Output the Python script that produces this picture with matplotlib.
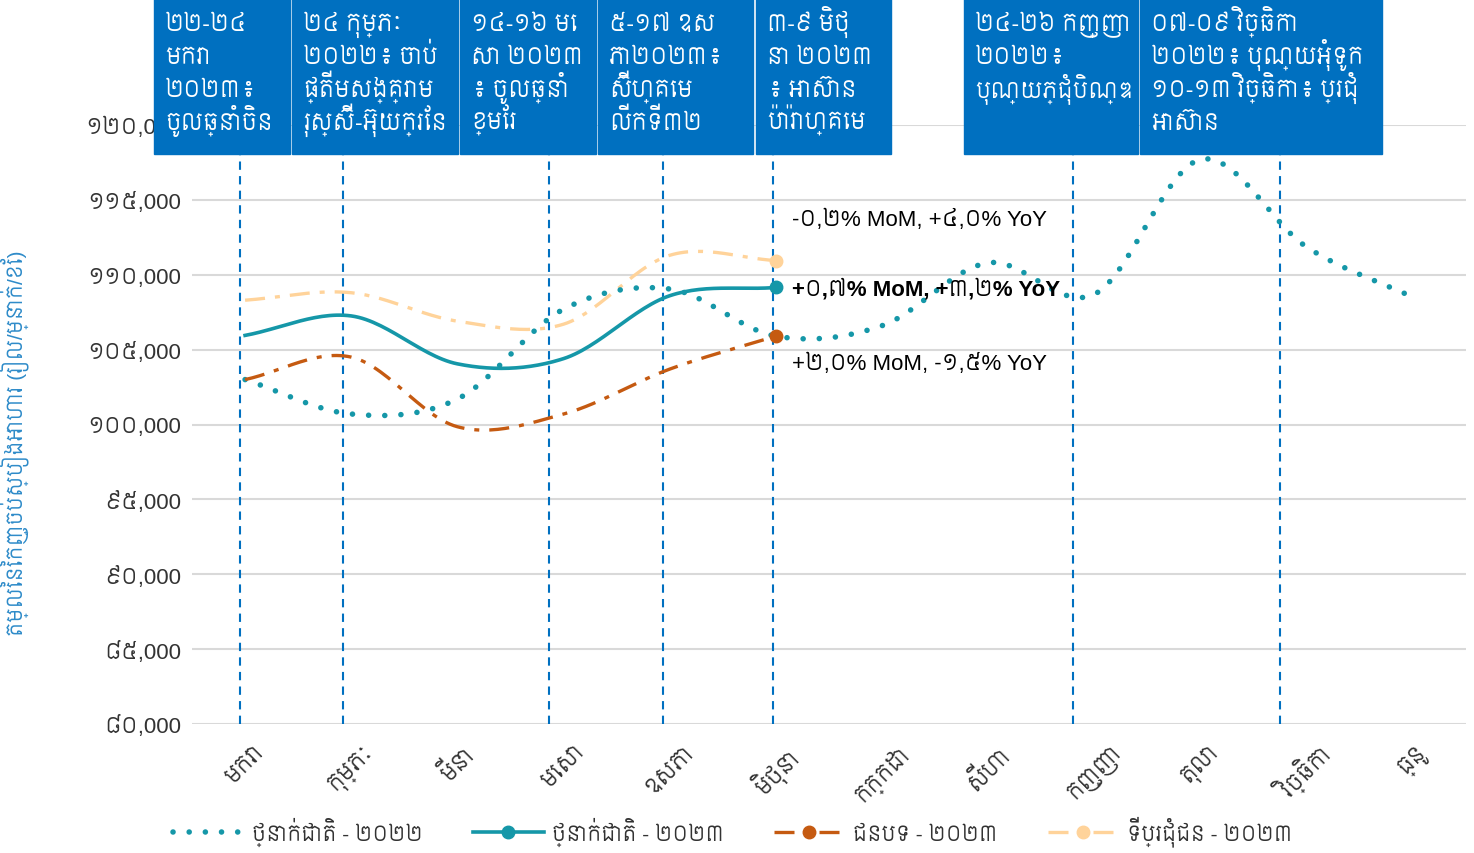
import numpy as np
import matplotlib
matplotlib.use('Agg')
import matplotlib.pyplot as plt
from matplotlib.patches import Rectangle
from matplotlib.lines import Line2D

# Latin text in Liberation Sans, Khmer glyphs from Siemreap
plt.rcParams['font.family'] = ['Liberation Sans', 'Siemreap', 'Noto Sans Khmer', 'DejaVu Sans']

# data
months = ['មករា', 'កុម្ភៈ', 'មីនា', 'មេសា', 'ឧសភា', 'មិថុនា',
          'កក្កដា', 'សីហា', 'កញ្ញា', 'តុលា', 'វិច្ឆិកា', 'ធ្នូ']
national_2022 = [103000, 100700, 101700, 107700, 109050, 105900,
                 106600, 110800, 108700, 117700, 111850, 108500]
national_2023 = [105950, 107250, 104050, 104400, 108600, 109150]
rural_2023 = [103000, 104500, 99850, 100700, 103700, 105900]
urban_2023 = [108300, 108800, 106900, 106700, 111300, 110950]

series_names = ['ថ្នាក់ជាតិ - ២០២២', 'ថ្នាក់ជាតិ - ២០២៣',
                'ជនបទ - ២០២៣', 'ទីប្រជុំជន - ២០២៣']

yticks = [80000, 85000, 90000, 95000, 100000, 105000, 110000, 115000, 120000]
ytick_labels = ['៨០,000', '៨៥,000', '៩០,000', '៩៥,000', '១០០,000',
                '១០៥,000', '១១០,000', '១១៥,000', '១២០,000']

event_x = [-0.05, 0.92, 2.86, 3.94, 4.97, 7.8, 9.75]
event_texts = [
    '២២-២៤\nមករា\n២០២៣៖\nចូលឆ្នាំចិន',
    '២៤ កុម្ភៈ\n២០២២៖ ចាប់\nផ្តើមសង្គ្រាម\nរុស្ស៊ី-អ៊ុយក្រែន',
    '១៤-១៦ មេ\nសា ២០២៣\n៖ ចូលឆ្នាំ\nខ្មែរ',
    '៥-១៧ ឧស\nភា២០២៣៖\nស៊ីហ្គេម\nលើកទី៣២',
    '៣-៩ មិថុ\nនា ២០២៣\n៖ អាស៊ាន\nប៉ារ៉ាហ្គេម',
    '២៤-២៦ កញ្ញា\n២០២២៖\nបុណ្យភ្ជុំបិណ្ឌ',
    '០៧-០៩ វិច្ឆិកា\n២០២២៖ បុណ្យអុំទូក\n១០-១៣ វិច្ឆិកា៖ ប្រជុំ\nអាស៊ាន',
]
# box edges in pixels (left, right)
event_boxes = [(154, 290), (292, 458), (460, 596), (598, 753), (756, 891),
               (964, 1138), (1140, 1382)]

change_labels = ['-០,២% MoM, +៤,០% YoY', '+០,៧% MoM, +៣,២% YoY',
                 '+២,០% MoM, -១,៥% YoY']
change_y = [113700, 109100, 104050]

ylabel = 'តម្លៃនៃកញ្ចប់ស្បៀងអាហារ (រៀល/ម្នាក់/ខែ)'


def smooth(y, n=30):
    # catmull-rom curve through the points, like Excel's smoothed line
    y = np.asarray(y, float)
    x = np.arange(len(y), dtype=float)
    px = np.concatenate([[2 * x[0] - x[1]], x, [2 * x[-1] - x[-2]]])
    py = np.concatenate([[2 * y[0] - y[1]], y, [2 * y[-1] - y[-2]]])
    xs, ys = [], []
    t = np.linspace(0, 1, n)
    for i in range(1, len(px) - 2):
        for p, out in ((px, xs), (py, ys)):
            p0, p1, p2, p3 = p[i - 1], p[i], p[i + 1], p[i + 2]
            out.append(0.5 * (2 * p1 + (-p0 + p2) * t
                              + (2 * p0 - 5 * p1 + 4 * p2 - p3) * t ** 2
                              + (-p0 + 3 * p1 - 3 * p2 + p3) * t ** 3))
    return np.concatenate(xs), np.concatenate(ys)


W, H = 1474, 854
fig = plt.figure(figsize=(W / 100, H / 100), dpi=100)
ax = fig.add_axes([192 / W, 1 - 725 / H, (1466 - 192) / W, (725 - 126) / H])

teal = '#1597A8'
rust = '#C55A11'
peach = '#FFD39A'
blue = '#0070C0'
dashdot = (0, (6, 3, 1.5, 3))

x, y = smooth(national_2022)
ax.plot(x, y, color=teal, lw=4, linestyle=(0, (0.01, 2.9)),
        dash_capstyle='round', zorder=3)
x, y = smooth(national_2023)
ax.plot(x, y, color=teal, lw=2.6, zorder=4)
ax.plot(5, national_2023[-1], 'o', color=teal, ms=9, zorder=5)
x, y = smooth(rural_2023)
ax.plot(x, y, color=rust, lw=2.4, linestyle=dashdot, zorder=4)
ax.plot(5, rural_2023[-1], 'o', color=rust, ms=9, zorder=5)
x, y = smooth(urban_2023)
ax.plot(x, y, color=peach, lw=2.4, linestyle=dashdot, zorder=2)
ax.plot(5, urban_2023[-1], 'o', color=peach, ms=9, zorder=5)

for ex in event_x:
    ax.axvline(ex, color=blue, lw=1.5, linestyle=(0, (4, 3)), zorder=1)

for lab, cy in zip(change_labels, change_y):
    ax.text(5.15, cy, lab, fontsize=16, va='center', ha='left',
            fontweight='bold' if '+០,៧' in lab else 'normal', zorder=6)

ax.set_xlim(-0.5, 11.5)
ax.set_ylim(80000, 120000)
ax.set_yticks(yticks)
ax.set_yticklabels(ytick_labels, fontsize=16, color='#333333')
ax.set_xticks(range(12))
ax.set_xticklabels(months, rotation=45, fontsize=16, color='#333333',
                   ha='center', va='top')
ax.tick_params(length=0, pad=8)
ax.tick_params(axis='x', pad=12)
ax.grid(axis='y', color='#d9d9d9', lw=1.5)
ax.set_axisbelow(True)
for s in ax.spines.values():
    s.set_visible(False)
ax.set_ylabel(ylabel, fontsize=15, color='#2E8BC9')
ax.yaxis.set_label_coords(-0.128, 0.47)

# event boxes, one text per line so the rows stay evenly spaced
renderer = fig.canvas.get_renderer()
for (l, r), txt in zip(event_boxes, event_texts):
    fig.patches.append(Rectangle((l / W, 1 - 155 / H), (r - l) / W, 155 / H,
                                 transform=fig.transFigure, color=blue,
                                 zorder=10))
    for i, line in enumerate(txt.split('\n')):
        t = fig.text((l + 11) / W, 1 - (31 + 33 * i) / H, line, color='white',
                     fontsize=16.5, va='baseline', ha='left', zorder=11)
        # shrink a line that would run past its box
        w = t.get_window_extent(renderer).width
        room = r - l - 16
        if w > room:
            t.set_fontsize(16.5 * room / w)

handles = [
    Line2D([], [], color=teal, lw=4, linestyle=(0, (0.01, 2.9)),
           dash_capstyle='round'),
    Line2D([], [], color=teal, lw=2.6, marker='o', ms=9),
    Line2D([], [], color=rust, lw=2.4, linestyle=dashdot, marker='o', ms=9),
    Line2D([], [], color=peach, lw=2.4, linestyle=dashdot, marker='o', ms=9),
]
fig.legend(handles, series_names, loc='center', bbox_to_anchor=(0.497, 1 - 832 / H),
           ncol=4, frameon=False, fontsize=15, handlelength=3.4,
           handletextpad=0.4, columnspacing=2.4, labelcolor='#333333')

fig.savefig('out.png', dpi=100)
